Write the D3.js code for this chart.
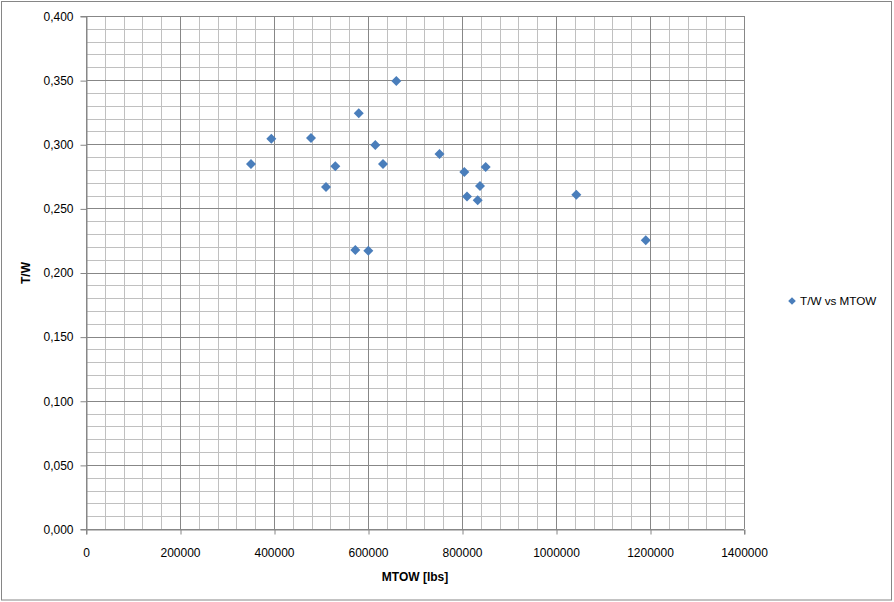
<!DOCTYPE html>
<html>
<head>
<meta charset="utf-8">
<script src="https://cdn.jsdelivr.net/npm/d3@7"></script>
<style>
  body { margin: 0; background: #fff; }
  svg { display: block; }
</style>
</head>
<body>
<svg id="chart" width="894" height="602"></svg>
<script>
// Data
const mtow = [351000, 394300, 478700, 580300, 660200, 615500, 530500, 631900, 510600, 573000, 600700, 752100, 804900, 810600, 838300, 833400, 850400, 1043200, 1190900];
const tw   = [0.2846, 0.3043, 0.3049, 0.3241, 0.3493, 0.2994, 0.2828, 0.2846, 0.2667, 0.2175, 0.2170, 0.2924, 0.2784, 0.2593, 0.2674, 0.2563, 0.2823, 0.2607, 0.2251];
const xTicks = [0, 200000, 400000, 600000, 800000, 1000000, 1200000, 1400000];
const yTicks = [0, 0.05, 0.10, 0.15, 0.20, 0.25, 0.30, 0.35, 0.40];
const seriesName = "T/W vs MTOW";
const xTitle = "MTOW [lbs]";
const yTitle = "T/W";

const svg = d3.select("#chart");
const font = "'Liberation Sans', Arial, sans-serif";
const L = 86, R = 744, T = 16, B = 529;
const x = d3.scaleLinear().domain([0, 1400000]).range([L, R]);
const y = d3.scaleLinear().domain([0, 0.4]).range([B, T]);

// outer frame
svg.append("rect").attr("x", 1.5).attr("y", 1.5).attr("width", 890).attr("height", 598.5)
  .attr("fill", "#fff").attr("stroke", "#868686").attr("stroke-width", 1);

// minor grid
const xMinor = d3.range(0, 1400001, 40000);
const yMinor = d3.range(0, 41).map(i => i / 100);
const g = svg.append("g");
g.selectAll(".xm").data(xMinor).enter().append("line")
  .attr("x1", d => Math.round(x(d)) + 0.5).attr("x2", d => Math.round(x(d)) + 0.5)
  .attr("y1", T).attr("y2", B).attr("stroke", "#c0c0c0").attr("stroke-width", 1);
g.selectAll(".ym").data(yMinor).enter().append("line")
  .attr("y1", d => Math.round(y(d)) + 0.5).attr("y2", d => Math.round(y(d)) + 0.5)
  .attr("x1", L).attr("x2", R).attr("stroke", "#c0c0c0").attr("stroke-width", 1);
// major grid
g.selectAll(".xM").data(xTicks).enter().append("line")
  .attr("x1", d => Math.round(x(d)) + 0.5).attr("x2", d => Math.round(x(d)) + 0.5)
  .attr("y1", T).attr("y2", B).attr("stroke", "#878787").attr("stroke-width", 1);
g.selectAll(".yM").data(yTicks).enter().append("line")
  .attr("y1", d => Math.round(y(d)) + 0.5).attr("y2", d => Math.round(y(d)) + 0.5)
  .attr("x1", L).attr("x2", R).attr("stroke", "#878787").attr("stroke-width", 1);

// axes
const fmtY = d => d3.format(".3f")(d).replace(".", ",");
const yAxis = d3.axisLeft(y).tickValues(yTicks).tickFormat(fmtY).tickSize(6).tickPadding(7);
const xAxis = d3.axisBottom(x).tickValues(xTicks).tickFormat(d3.format("d")).tickSize(5).tickPadding(14);
const ya = svg.append("g").attr("transform", `translate(${L + 0.5},0)`).call(yAxis);
const xa = svg.append("g").attr("transform", `translate(0,${B + 0.5})`).call(xAxis);
[ya, xa].forEach(a => {
  a.select(".domain").attr("stroke", "#868686");
  a.selectAll(".tick line").attr("stroke", "#868686");
  a.selectAll("text").attr("font-family", font).attr("font-size", 12).attr("fill", "#000");
});
ya.selectAll(".tick line").attr("transform", "translate(0,0.5)");
ya.selectAll(".tick text").attr("dy", "0.36em");
xa.selectAll(".tick line").attr("transform", "translate(0.5,0)");

// titles
svg.append("text").attr("x", 415).attr("y", 581).attr("text-anchor", "middle")
  .attr("font-family", font).attr("font-size", 12).attr("font-weight", "bold").text(xTitle);
svg.append("text").attr("transform", "translate(30,273) rotate(-90)").attr("text-anchor", "middle")
  .attr("font-family", font).attr("font-size", 12).attr("font-weight", "bold").text(yTitle);

// points
const diamond = "M0,-5L5,0L0,5L-5,0Z";
svg.append("g").selectAll("path").data(mtow.map((m, i) => [m, tw[i]])).enter().append("path")
  .attr("d", diamond)
  .attr("transform", d => `translate(${x(d[0])},${y(d[1])})`)
  .attr("fill", "#4a7ebb");

// legend
svg.append("path").attr("d", "M0,-3.8L3.8,0L0,3.8L-3.8,0Z")
  .attr("transform", "translate(792,301)").attr("fill", "#4a7ebb");
svg.append("text").attr("x", 800).attr("y", 305).attr("font-family", font).attr("font-size", 11.7)
  .attr("fill", "#000").text(seriesName);
</script>
</body>
</html>
